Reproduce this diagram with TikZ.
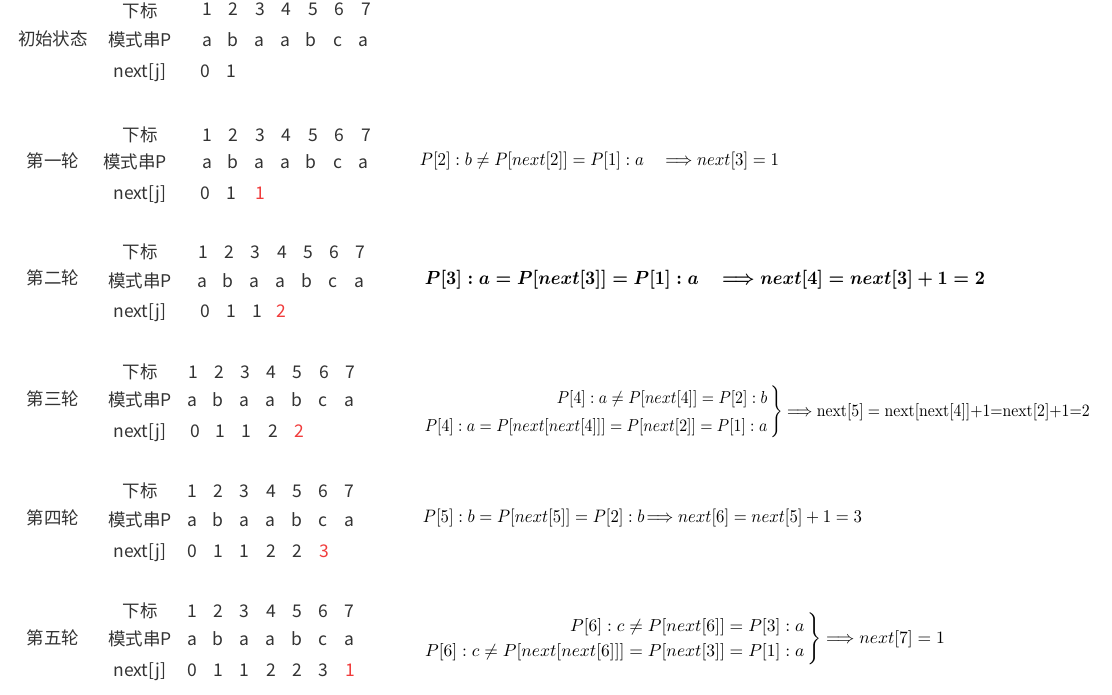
\documentclass[tikz,border=0pt]{standalone}
\usepackage[no-math]{fontspec}
\setmainfont{Noto Sans CJK SC}
\usepackage{graphicx}
\definecolor{txt}{RGB}{51,51,51}
\definecolor{hl}{RGB}{240,60,60}
\begin{document}
\begin{tikzpicture}[x=1pt,y=-1pt,
  every node/.style={inner sep=0pt, outer sep=0pt},
  lbl/.style={anchor=base, text=txt, font=\fontsize{17.5}{20}\selectfont},
  hot/.style={lbl, text=hl},
  fml/.style={anchor=center, text=black}]
\useasboundingbox (0,0) rectangle (1112,694);

% ---------- block 0 : initial state ----------
\node[lbl] (t0) at (53,45) {初始状态};
\node[lbl] (i0) at (140,17) {下标};
\node[lbl] (m0) at (140,46) {模式串P};
\node[lbl] (n0) at (140,77) {next[j]};
\foreach \v [count=\i] in {1,...,7} \node[lbl] (i0\i) at ({207+(\i-1)*26.5},15) {\v};
\foreach \v [count=\i] in {a,b,a,a,b,c,a} \node[lbl] (p0\i) at ({207+(\i-1)*26.1},46) {\v};
\foreach \v/\x [count=\i] in {0/205,1/231} \node[lbl] (v0\i) at (\x,77) {\v};

% ---------- block 1 ----------
\node[lbl] (t1) at (53,167) {第一轮};
\node[lbl] (i1) at (140,141) {下标};
\node[lbl] (m1) at (135,168) {模式串P};
\node[lbl] (n1) at (140,199) {next[j]};
\foreach \v [count=\i] in {1,...,7} \node[lbl] (i1\i) at ({207+(\i-1)*26.5},141) {\v};
\foreach \v [count=\i] in {a,b,a,a,b,c,a} \node[lbl] (p1\i) at ({207+(\i-1)*26.1},168) {\v};
\foreach \v/\x [count=\i] in {0/205,1/231} \node[lbl] (v1\i) at (\x,199) {\v};
\node[hot] (r1) at (260,199) {1};

% ---------- block 2 ----------
\node[lbl] (t2) at (53,284) {第二轮};
\node[lbl] (i2) at (140,258) {下标};
\node[lbl] (m2) at (140,287) {模式串P};
\node[lbl] (n2) at (140,317) {next[j]};
\foreach \v [count=\i] in {1,...,7} \node[lbl] (i2\i) at ({203+(\i-1)*26.3},258) {\v};
\foreach \v [count=\i] in {a,b,a,a,b,c,a} \node[lbl] (p2\i) at ({202+(\i-1)*26.2},287) {\v};
\foreach \v/\x [count=\i] in {0/205,1/231,1/257} \node[lbl] (v2\i) at (\x,317) {\v};
\node[hot] (r2) at (281,317) {2};

% ---------- block 3 ----------
\node[lbl] (t3) at (53,405) {第三轮};
\node[lbl] (i3) at (140,378) {下标};
\node[lbl] (m3) at (140,406) {模式串P};
\node[lbl] (n3) at (140,437) {next[j]};
\foreach \v [count=\i] in {1,...,7} \node[lbl] (i3\i) at ({193+(\i-1)*26.2},378) {\v};
\foreach \v [count=\i] in {a,b,a,a,b,c,a} \node[lbl] (p3\i) at ({192+(\i-1)*26.2},406) {\v};
\foreach \v/\x [count=\i] in {0/195,1/220,1/246,2/273} \node[lbl] (v3\i) at (\x,437) {\v};
\node[hot] (r3) at (299,437) {2};

% ---------- block 4 ----------
\node[lbl] (t4) at (53,524) {第四轮};
\node[lbl] (i4) at (140,497) {下标};
\node[lbl] (m4) at (140,526) {模式串P};
\node[lbl] (n4) at (140,557) {next[j]};
\foreach \v [count=\i] in {1,...,7} \node[lbl] (i4\i) at ({192+(\i-1)*26.3},497) {\v};
\foreach \v [count=\i] in {a,b,a,a,b,c,a} \node[lbl] (p4\i) at ({192+(\i-1)*26.2},526) {\v};
\foreach \v [count=\i] in {0,1,1,2,2} \node[lbl] (v4\i) at ({192+(\i-1)*26.3},557) {\v};
\node[hot] (r4) at (324,557) {3};

% ---------- block 5 ----------
\node[lbl] (t5) at (53,644) {第五轮};
\node[lbl] (i5) at (140,617) {下标};
\node[lbl] (m5) at (140,645) {模式串P};
\node[lbl] (n5) at (140,676) {next[j]};
\foreach \v [count=\i] in {1,...,7} \node[lbl] (i5\i) at ({192+(\i-1)*26.3},617) {\v};
\foreach \v [count=\i] in {a,b,a,a,b,c,a} \node[lbl] (p5\i) at ({192+(\i-1)*26.2},645) {\v};
\foreach \v [count=\i] in {0,1,1,2,2,3} \node[lbl] (v5\i) at ({192+(\i-1)*26.3},676) {\v};
\node[hot] (r5) at (350,676) {1};

% ---------- formulas ----------
\node[fml] (f1) at (599.5,161) {\resizebox*{359pt}{18pt}{$P[2]:b\neq P[next[2]]=P[1]:a\quad\Longrightarrow next[3]=1$}};
\node[fml] (f2) at (705,280) {\resizebox*{560pt}{19pt}{\boldmath$P[3]:a=P[next[3]]=P[1]:a\quad\Longrightarrow next[4]=next[3]+1=2$}};
\node[fml] (f3) at (756.5,412) {\resizebox*{667pt}{56pt}{\renewcommand\arraystretch{1.35}$\left.\begin{array}{@{}r@{\,}}P[4]:a\neq P[next[4]]=P[2]:b\\ P[4]:a=P[next[next[4]]]=P[next[2]]=P[1]:a\end{array}\right\}\Longrightarrow \mathrm{next}[5]=\mathrm{next}[\mathrm{next}[4]]{+}1{=}\mathrm{next}[2]{+}1{=}2$}};
\node[fml] (f4) at (642.5,518) {\resizebox*{439pt}{18pt}{$P[5]:b=P[next[5]]=P[2]:b\!\Longrightarrow next[6]=next[5]+1=3$}};
\node[fml] (f5) at (684,639) {\resizebox*{522pt}{52pt}{\renewcommand\arraystretch{1.2}$\left.\begin{array}{@{}r@{\,}}P[6]:c\neq P[next[6]]=P[3]:a\\ P[6]:c\neq P[next[next[6]]]=P[next[3]]=P[1]:a\end{array}\right\}\Longrightarrow next[7]=1$}};
\end{tikzpicture}
\end{document}
